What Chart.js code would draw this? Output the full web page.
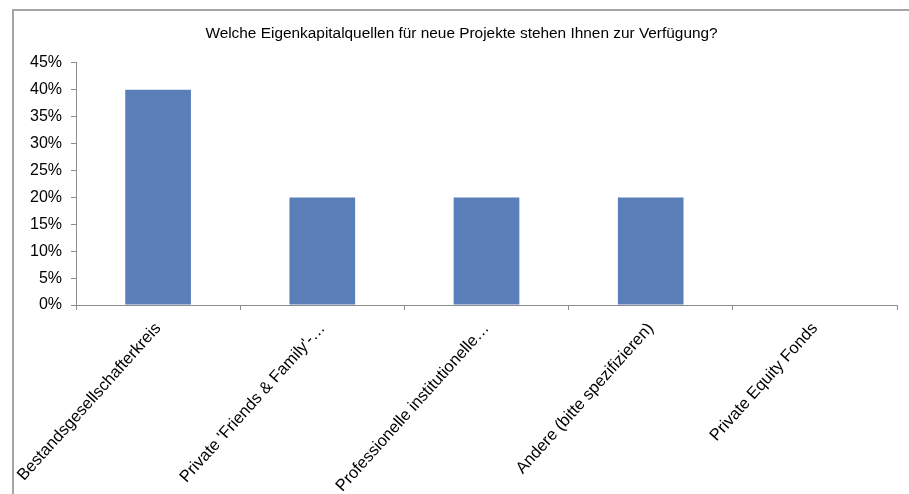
<!DOCTYPE html>
<html>
<head>
<meta charset="utf-8">
<script src="https://cdn.jsdelivr.net/npm/chart.js@4"></script>
<style>
  html, body { margin: 0; padding: 0; background: #ffffff; }
  #wrap { width: 909px; height: 494px; position: relative; }
</style>
</head>
<body>
<div id="wrap"><canvas id="graph"></canvas></div>
<script>
var chartTitle = 'Welche Eigenkapitalquellen für neue Projekte stehen Ihnen zur Verfügung?';
var categories = [
    'Bestandsgesellschafterkreis',
    "Private 'Friends & Family'-…",
    'Professionelle institutionelle…',
    'Andere (bitte spezifizieren)',
    'Private Equity Fonds'
];
var shares = [0.40, 0.20, 0.20, 0.20, 0];
var yTicks = [0, 0.05, 0.10, 0.15, 0.20, 0.25, 0.30, 0.35, 0.40, 0.45];

Chart.defaults.font.family = '"Liberation Sans", Arial, sans-serif';
Chart.defaults.color = '#000000';

// grey frame round the chart like the export has (top + left edge only visible)
var framePlugin = {
    id: 'frame',
    beforeDraw: function(chart) {
        var ctx = chart.ctx;
        ctx.save();
        ctx.strokeStyle = '#a6a6a6';
        ctx.lineWidth = 2;
        ctx.beginPath();
        ctx.moveTo(13, chart.height);
        ctx.lineTo(13, 10);
        ctx.lineTo(chart.width, 10);
        ctx.stroke();
        ctx.restore();
    }
};

var ctx = document.getElementById('graph');
var chart = new Chart(ctx, {
    type: 'bar',
    data: {
        labels: categories,
        datasets: [
            {
                data: shares,
                backgroundColor: '#5a7fb8',
                borderWidth: 0,
                categoryPercentage: 0.4,
                barPercentage: 1.0
            }
        ]
    },
    options: {
        responsive: true,
        maintainAspectRatio: false,
        animation: false,
        layout: {
            padding: { left: 26, right: 12, top: 16, bottom: 0 }
        },
        plugins: {
            legend: { display: false },
            tooltip: { enabled: false },
            title: {
                display: true,
                text: chartTitle,
                color: '#000000',
                font: { size: 15.4, weight: 'normal' },
                padding: { top: 9, bottom: 19.5 }
            }
        },
        scales: {
            y: {
                min: 0,
                max: 0.45,
                afterBuildTicks: function(axis) {
                    axis.ticks = yTicks.map(function(v) { return { value: v }; });
                },
                afterFit: function(scale) { scale.width = 50; },
                ticks: {
                    font: { size: 16 },
                    padding: 9,
                    callback: function(v) { return Math.round(v * 100) + '%'; }
                },
                grid: {
                    drawOnChartArea: false,
                    drawTicks: true,
                    tickLength: 5,
                    color: '#8c8c8c'
                },
                border: { color: '#8c8c8c', width: 1 }
            },
            x: {
                afterFit: function(scale) { scale.height = 189; },
                ticks: {
                    font: { size: 16.5 },
                    minRotation: 48,
                    maxRotation: 48,
                    autoSkip: false,
                    padding: 9
                },
                grid: {
                    offset: true,
                    drawOnChartArea: false,
                    drawTicks: true,
                    tickLength: 5,
                    color: '#8c8c8c'
                },
                border: { color: '#8c8c8c', width: 1 }
            }
        }
    },
    plugins: [framePlugin]
});
</script>
</body>
</html>
